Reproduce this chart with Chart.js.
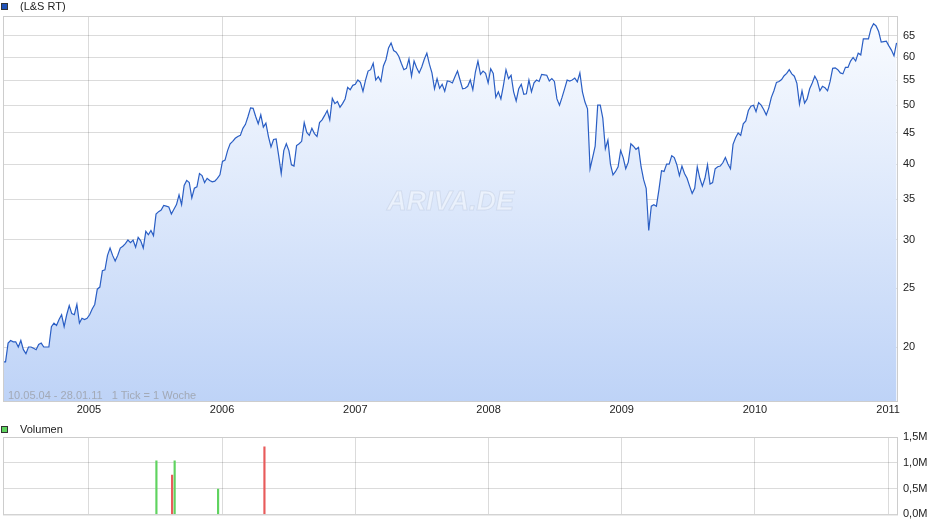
<!DOCTYPE html>
<html>
<head>
<meta charset="utf-8">
<script src="https://cdn.jsdelivr.net/npm/chart.js@4.4.1/dist/chart.umd.min.js"></script>
<style>
  body { margin: 0; background: #fff; font-family: "Liberation Sans", Arial, sans-serif; }
  #wrap { position: relative; width: 940px; height: 526px; overflow: hidden; }
  .box { position: absolute; left: 0; width: 940px; }
  .legend { position: absolute; left: 1px; font-size: 11px; color: #222; display: flex; align-items: center; line-height: 12px; }
  .legend span.sq { display: inline-block; width: 5px; height: 5px; border: 1px solid #333; margin-right: 12px; }
  #info { position: absolute; left: 8px; top: 389px; font-size: 11px; color: #a2a9b6; white-space: pre; }
</style>
</head>
<body>
<div id="wrap">
  <div class="box" style="top:0;height:420px"><canvas id="priceChart" width="940" height="420"></canvas></div>
  <div class="box" style="top:420px;height:106px"><canvas id="volChart" width="940" height="106"></canvas></div>
  <div class="legend" style="top:0px"><span class="sq" style="background:#1f52b8"></span>(L&amp;S RT)</div>
  <div class="legend" style="top:423px"><span class="sq" style="background:#5fd35f"></span>Volumen</div>
  <div id="info">10.05.04 - 28.01.11   1 Tick = 1 Woche</div>
</div>
<script>
// weekly closes, first week 10.05.04
const startDate = '2004-05-10';
const endDate = '2011-01-28';
const prices = [
  18.9, 18.9, 20.3, 20.5, 20.4, 20.4, 20.0, 20.5, 19.8, 19.5,
  20.0, 20.0, 19.9, 19.8, 20.2, 20.3, 20.0, 20.0, 20.0, 21.6,
  21.9, 21.7, 22.2, 22.6, 21.6, 22.6, 23.4, 22.7, 22.6, 23.5,
  21.9, 22.3, 22.2, 22.3, 22.6, 23.1, 23.5, 24.9, 25.1, 26.7,
  26.8, 28.3, 29.1, 28.3, 27.7, 28.3, 29.1, 29.3, 29.6, 30.0,
  29.7, 30.0, 29.2, 30.3, 29.9, 29.1, 31.0, 30.6, 31.1, 30.5,
  33.1, 33.4, 33.6, 34.2, 34.1, 34.0, 33.1, 33.7, 34.3, 35.6,
  34.3, 36.9, 37.6, 37.3, 35.2, 36.5, 36.7, 38.6, 38.3, 37.3,
  37.9, 37.6, 37.4, 37.5, 37.9, 38.4, 40.4, 40.6, 42.1, 43.2,
  43.6, 44.1, 44.4, 44.6, 45.8, 46.5, 47.9, 49.5, 49.4, 47.9,
  46.6, 48.2, 46.0, 46.7, 44.4, 42.7, 43.9, 44.0, 41.3, 38.6,
  42.1, 43.2, 42.1, 39.9, 39.7, 42.9, 43.2, 43.6, 46.8, 45.1,
  44.6, 45.8, 44.9, 44.4, 46.8, 47.3, 48.1, 49.0, 47.3, 51.3,
  50.3, 50.7, 49.6, 50.3, 51.2, 53.5, 53.0, 53.9, 54.1, 55.0,
  54.5, 52.7, 55.0, 56.9, 57.2, 58.6, 55.0, 55.7, 54.7, 58.0,
  59.4, 62.1, 63.3, 61.5, 61.1, 60.2, 58.6, 57.2, 57.5, 59.6,
  55.8, 59.1, 57.6, 56.5, 57.8, 59.5, 60.9, 58.4, 56.5, 53.2,
  55.3, 53.3, 54.1, 52.7, 54.8, 54.7, 54.4, 55.7, 56.9, 55.0,
  53.2, 53.3, 53.7, 55.0, 53.0, 56.7, 59.1, 56.2, 56.9, 56.4,
  54.4, 57.4, 56.4, 51.5, 52.6, 51.2, 53.9, 57.2, 55.3, 56.0,
  52.6, 50.8, 53.2, 54.1, 52.1, 52.2, 55.0, 52.6, 54.4, 55.0,
  54.7, 56.2, 56.1, 56.0, 54.8, 55.3, 54.7, 51.2, 50.0, 51.5,
  53.2, 55.0, 54.8, 55.0, 55.4, 54.6, 56.5, 52.6, 50.6, 49.3,
  39.3, 41.0, 42.8, 50.0, 50.0, 47.6, 42.4, 43.8, 40.0, 38.4,
  38.9, 39.6, 42.1, 41.0, 39.3, 40.3, 43.2, 42.8, 42.3, 42.6,
  39.6, 37.7, 36.5, 31.1, 34.1, 34.3, 34.1, 36.3, 39.0, 38.9,
  40.0, 40.0, 41.3, 41.0, 39.9, 38.3, 39.7, 38.6, 37.9, 36.8,
  35.8, 36.5, 39.6, 37.9, 36.8, 37.9, 39.9, 37.1, 37.3, 39.3,
  39.6, 39.7, 40.2, 41.0, 40.0, 39.3, 43.1, 44.2, 45.0, 44.6,
  46.6, 47.1, 49.0, 49.8, 50.0, 48.8, 50.5, 50.0, 49.2, 48.2,
  49.5, 51.5, 52.8, 54.5, 54.7, 55.1, 55.9, 56.4, 57.2, 56.3,
  55.8, 54.3, 50.2, 52.8, 50.4, 51.2, 53.2, 54.4, 55.8, 54.8,
  52.8, 53.7, 53.4, 52.8, 54.7, 57.5, 57.6, 57.2, 56.5, 56.3,
  57.7, 57.7, 59.1, 59.9, 59.1, 60.9, 60.5, 64.3, 64.3, 64.3,
  66.8, 68.1, 67.5, 66.1, 63.5, 63.6, 63.7, 62.6, 61.6, 60.3, 63.3
];
const priceTicks = [20, 25, 30, 35, 40, 45, 50, 55, 60, 65];
const yearTicks = [2005, 2006, 2007, 2008, 2009, 2010, 2011];

const volDates = ['2005-07-05', '2005-08-17', '2005-08-24', '2005-12-21', '2006-04-27'];
const volValues = [1.04, 0.76, 1.04, 0.49, 1.31]; // Mio. Stück
const volDir = ['up', 'down', 'up', 'up', 'down'];
const volTicks = [0, 0.5, 1.0, 1.5];

function toYear(t) {
  const d = new Date(t);
  const y = d.getUTCFullYear();
  const s = Date.UTC(y, 0, 1), e = Date.UTC(y + 1, 0, 1);
  return y + (d - s) / (e - s);
}

const t0 = Date.parse(startDate + 'T00:00:00Z');
const weekX = prices.map((_, i) => toYear(t0 + i * 7 * 86400000));
const xMin = toYear(t0);
const xMax = toYear(Date.parse(endDate + 'T00:00:00Z'));

const gridColor = 'rgba(0,0,0,0.14)';
const font = { family: '"Liberation Sans", Arial, sans-serif', size: 11 };

// frame around the plot area
const frame = {
  id: 'frame',
  afterDraw(chart) {
    const { ctx, chartArea: a } = chart;
    ctx.save();
    ctx.strokeStyle = '#cdcdcd';
    ctx.lineWidth = 1;
    ctx.strokeRect(a.left + 0.5, a.top + 0.5, a.right - a.left - 1, a.bottom - a.top);
    ctx.restore();
  }
};

const watermark = {
  id: 'watermark',
  afterDatasetsDraw(chart) {
    const { ctx, chartArea: a } = chart;
    const cx = (a.left + a.right) / 2, cy = a.top + (a.bottom - a.top) * 0.485;
    ctx.save();
    ctx.font = 'italic bold 27px "Liberation Sans", Arial, sans-serif';
    ctx.textAlign = 'center';
    ctx.textBaseline = 'middle';
    ctx.fillStyle = 'rgba(255,255,255,0.4)';
    ctx.strokeStyle = 'rgba(150,165,190,0.22)';
    ctx.lineWidth = 1;
    ctx.fillText('ARIVA.DE', cx, cy);
    ctx.strokeText('ARIVA.DE', cx, cy);
    ctx.restore();
  }
};

new Chart(document.getElementById('priceChart'), {
  type: 'line',
  data: {
    datasets: [{
      label: '(L&S RT)',
      data: prices.map((v, i) => ({ x: weekX[i], y: v })),
      borderColor: '#2a5ec4',
      borderWidth: 1.2,
      pointRadius: 0,
      tension: 0,
      fill: 'start',
      backgroundColor: function(context) {
        const { ctx, chartArea } = context.chart;
        if (!chartArea) return null;
        const g = ctx.createLinearGradient(0, chartArea.top, 0, chartArea.bottom);
        g.addColorStop(0, '#fafcff');
        g.addColorStop(1, '#bed3f7');
        return g;
      }
    }]
  },
  options: {
    responsive: false,
    animation: false,
    layout: { padding: { left: 3, top: 16, right: 0, bottom: 0 } },
    plugins: { legend: { display: false }, tooltip: { enabled: false } },
    scales: {
      x: {
        type: 'linear',
        min: xMin,
        max: xMax,
        z: 1,
        afterBuildTicks: s => { s.ticks = yearTicks.map(v => ({ value: v })); },
        afterFit: s => { s.height = 19; },
        ticks: { autoSkip: false, maxRotation: 0, color: '#222', font: font, padding: 2, callback: v => String(v) },
        grid: { color: gridColor, drawTicks: false },
        border: { display: false }
      },
      y: {
        type: 'logarithmic',
        position: 'right',
        min: 16.3,
        max: 70.1,
        z: 1,
        afterBuildTicks: s => { s.ticks = priceTicks.map(v => ({ value: v })); },
        afterFit: s => { s.width = 42; },
        ticks: { color: '#222', font: font, padding: 5, callback: v => String(v) },
        grid: { color: gridColor, drawTicks: false },
        border: { display: false }
      }
    }
  },
  plugins: [watermark, frame]
});

new Chart(document.getElementById('volChart'), {
  type: 'bar',
  data: {
    datasets: [{
      label: 'Volumen',
      data: volDates.map((d, i) => ({ x: toYear(Date.parse(d + 'T00:00:00Z')), y: volValues[i] })),
      backgroundColor: volDir.map(d => d === 'up' ? '#5fd35f' : '#e85b5b'),
      barThickness: 1.5,
      borderWidth: 0
    }]
  },
  options: {
    responsive: false,
    animation: false,
    layout: { padding: { left: 3, top: 17, right: 0, bottom: 0 } },
    plugins: { legend: { display: false }, tooltip: { enabled: false } },
    scales: {
      x: {
        type: 'linear',
        min: xMin,
        max: xMax,
        offset: false,
        afterBuildTicks: s => { s.ticks = yearTicks.map(v => ({ value: v })); },
        afterFit: s => { s.height = 10; },
        ticks: { display: false },
        grid: { color: gridColor, drawTicks: false, offset: false },
        border: { display: false }
      },
      y: {
        position: 'right',
        min: 0,
        max: 1.5,
        afterBuildTicks: s => { s.ticks = volTicks.map(v => ({ value: v })); },
        afterFit: s => { s.width = 42; },
        ticks: { color: '#222', font: font, padding: 5, callback: v => v.toFixed(1).replace('.', ',') + 'M' },
        grid: { color: gridColor, drawTicks: false },
        border: { display: false }
      }
    }
  },
  plugins: [frame]
});
</script>
</body>
</html>
